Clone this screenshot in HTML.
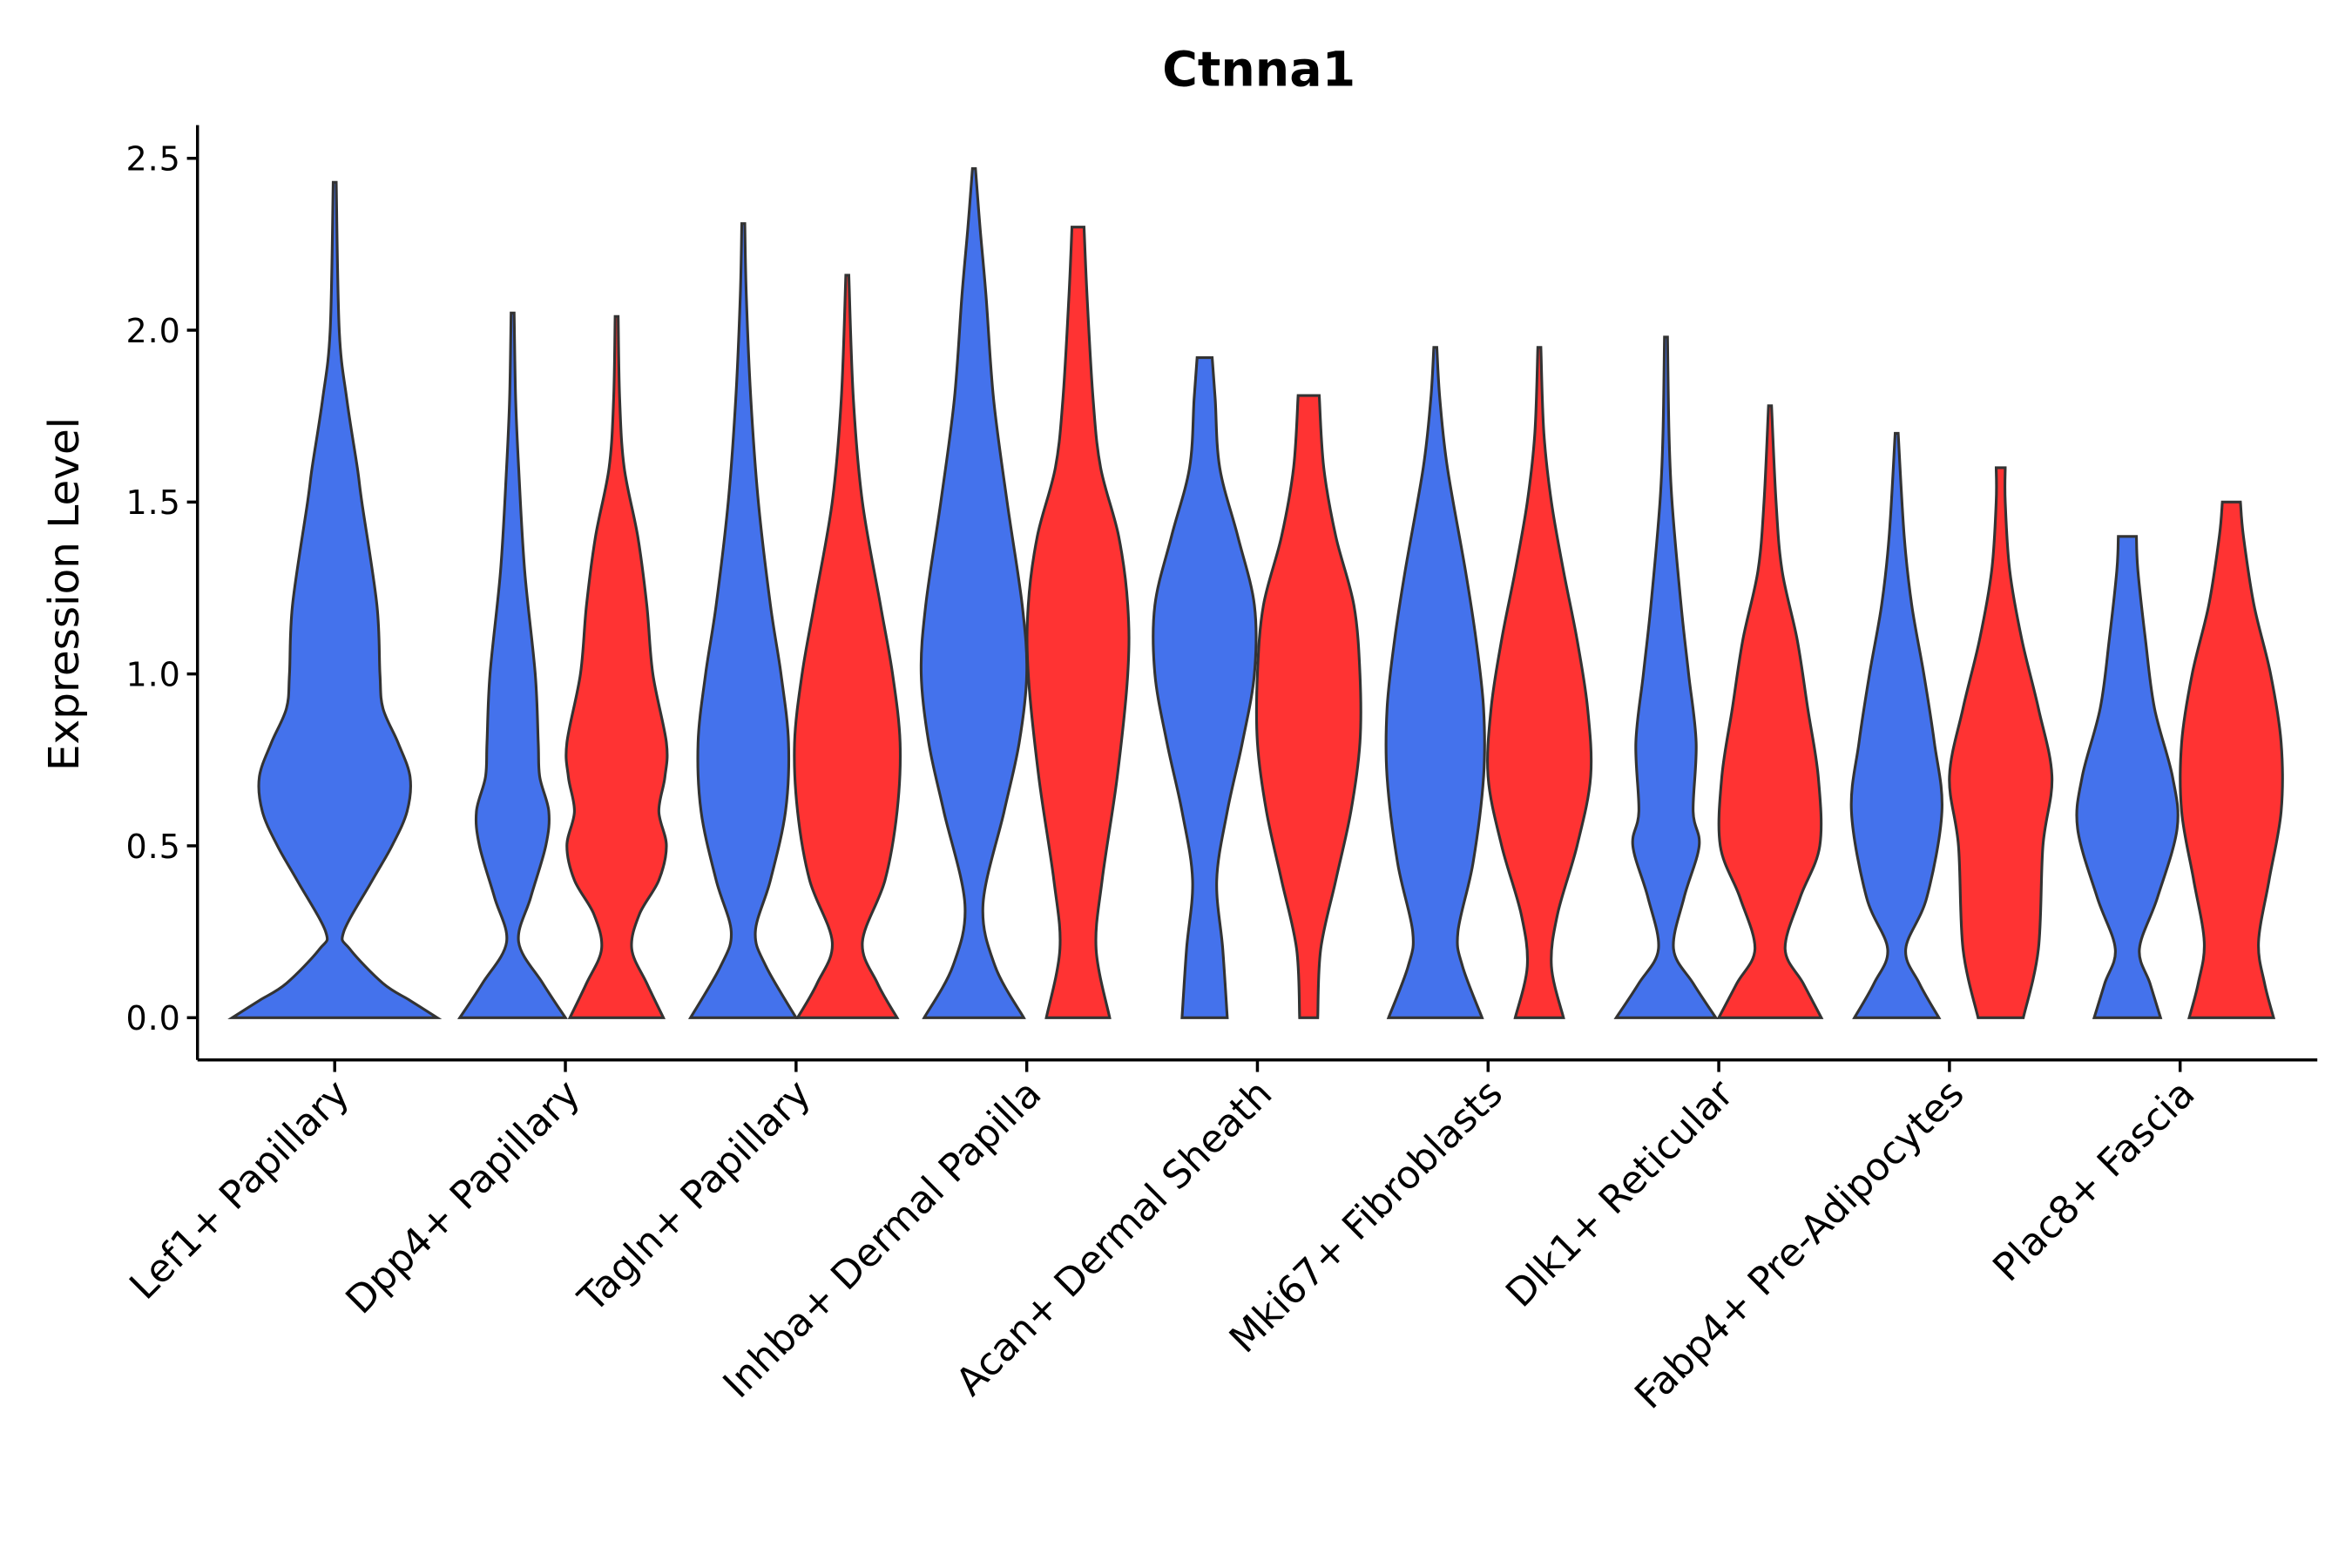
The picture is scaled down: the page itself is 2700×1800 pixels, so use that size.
<!DOCTYPE html>
<html><head><meta charset="utf-8"><style>
html,body{margin:0;padding:0;background:#fff;}
svg{display:block;}
text{font-family:"DejaVu Sans","Liberation Sans",sans-serif;fill:#000;}
</style></head><body>
<svg id="chart" width="2700" height="1800" viewBox="0 0 1560 1040" xmlns="http://www.w3.org/2000/svg">
<rect width="1560" height="1040" fill="#fff"/>
<text x="835" y="57" text-anchor="middle" font-size="32" font-weight="bold">Ctnna1</text>
<text transform="translate(52,394) rotate(-90)" text-anchor="middle" font-size="28">Expression Level</text>
<g id="violins"></g>
<g id="axes"></g>
</svg>
<script>
const categories = ["Lef1+ Papillary","Dpp4+ Papillary","Tagln+ Papillary","Inhba+ Dermal Papilla","Acan+ Dermal Sheath","Mki67+ Fibroblasts","Dlk1+ Reticular","Fabp4+ Pre-Adipocytes","Plac8+ Fascia"];
const yTicks = [0,0.5,1.0,1.5,2.0,2.5];
const yTickLabels = ["0.0","0.5","1.0","1.5","2.0","2.5"];
const blueProfiles = [
 [[0,68],[0.05,50],[0.1,32],[0.2,10],[0.25,6],[0.4,25],[0.5,38],[0.6,48],[0.7,50],[0.8,42],[0.9,32],[1.0,30],[1.2,28],[1.5,18],[1.6,15],[1.8,8],[2.0,3],[2.43,1]],
 [[0,35],[0.1,20],[0.22,4],[0.35,12],[0.5,22],[0.6,24],[0.7,18],[0.8,17],[1.0,15],[1.3,8],[1.6,4],[1.8,2],[2.05,1]],
 [[0,35],[0.15,15],[0.25,8],[0.4,18],[0.6,28],[0.8,30],[1.0,25],[1.2,18],[1.5,10],[1.8,5],[2.1,2],[2.31,1]],
 [[0,33],[0.15,14],[0.33,6],[0.6,20],[0.8,30],[1.0,35],[1.2,32],[1.5,22],[1.8,13],[2.1,8],[2.3,4],[2.47,1]],
 [[0,15],[0.2,12],[0.4,8],[0.6,15],[0.8,25],[1.0,33],[1.2,33],[1.4,22],[1.6,10],[1.8,7],[1.92,5]],
 [[0,31],[0.15,18],[0.25,15],[0.45,25],[0.7,32],[0.9,32],[1.1,27],[1.3,20],[1.6,8],[1.8,3],[1.95,1]],
 [[0,33],[0.1,18],[0.2,5],[0.35,12],[0.5,22],[0.6,18],[0.8,20],[1.0,15],[1.2,10],[1.5,4],[1.7,2],[1.98,1]],
 [[0,28],[0.1,15],[0.2,6],[0.35,20],[0.6,30],[0.8,25],[1.0,18],[1.2,10],[1.4,5],[1.7,1]],
 [[0,22],[0.1,15],[0.2,8],[0.35,20],[0.55,33],[0.7,30],[0.9,18],[1.1,12],[1.3,7],[1.4,6]]
];
const redProfiles = [
 null,
 [[0,31],[0.1,20],[0.2,10],[0.3,15],[0.4,28],[0.5,33],[0.6,28],[0.7,32],[0.8,33],[1.0,24],[1.2,20],[1.4,14],[1.6,5],[1.8,2],[2.04,1]],
 [[0,33],[0.1,20],[0.22,10],[0.4,25],[0.6,33],[0.8,35],[1.0,30],[1.2,22],[1.5,10],[1.8,4],[2.16,1]],
 [[0,21],[0.2,12],[0.4,16],[0.7,26],[1.0,33],[1.2,33],[1.4,27],[1.6,15],[1.8,10],[2.1,6],[2.3,4]],
 [[0,6],[0.2,8],[0.4,18],[0.6,28],[0.8,34],[1.0,34],[1.2,30],[1.4,18],[1.6,10],[1.81,7]],
 [[0,16],[0.15,8],[0.3,12],[0.5,25],[0.7,34],[0.9,32],[1.1,25],[1.3,16],[1.5,8],[1.7,3],[1.95,1]],
 [[0,34],[0.1,22],[0.2,10],[0.35,20],[0.5,33],[0.7,32],[0.9,25],[1.1,18],[1.3,8],[1.5,4],[1.78,1]],
 [[0,15],[0.2,25],[0.5,28],[0.7,34],[0.9,25],[1.1,14],[1.3,6],[1.5,3],[1.6,3]],
 [[0,28],[0.1,22],[0.22,18],[0.4,25],[0.6,33],[0.8,33],[1.0,26],[1.2,15],[1.4,8],[1.5,6]]
];
const NS="http://www.w3.org/2000/svg";
const X0=131,X1=1537,Y0=83,Y1=703;
const yScale=v=>675-228*v;
const xCenter=i=>222+i*153;
function smooth(pts){
  let d="";
  for(let i=0;i<pts.length-1;i++){
    const p0=pts[Math.max(0,i-1)],p1=pts[i],p2=pts[i+1],p3=pts[Math.min(pts.length-1,i+2)];
    const c1=[p1[0]+(p2[0]-p0[0])/6,p1[1]+(p2[1]-p0[1])/6];
    const c2=[p2[0]-(p3[0]-p1[0])/6,p2[1]-(p3[1]-p1[1])/6];
    d+=` C${c1[0]},${c1[1]} ${c2[0]},${c2[1]} ${p2[0]},${p2[1]}`;
  }
  return d;
}
function violin(cx,prof,color,name){
  const right=prof.map(p=>[cx+p[1],yScale(p[0])]);
  const left=prof.slice().reverse().map(p=>[cx-p[1],yScale(p[0])]);
  let d=`M${right[0][0]},${right[0][1]}`+smooth(right)+` L${left[0][0]},${left[0][1]}`+smooth(left)+" Z";
  const el=document.createElementNS(NS,"path");
  el.setAttribute("d",d);el.setAttribute("fill",color);el.setAttribute("stroke","#333");el.setAttribute("stroke-width","1.8");
  
  
  document.getElementById("violins").appendChild(el);
}
categories.forEach((c,i)=>{
  const cx=xCenter(i);
  if(redProfiles[i]){
    violin(cx-35,blueProfiles[i],"#4472EC","violin-blue-"+i);
    violin(cx+34,redProfiles[i],"#FF3333","violin-red-"+i);
  } else violin(cx,blueProfiles[i],"#4472EC","violin-blue-"+i);
});
const ax=document.getElementById("axes");
function line(x1,y1,x2,y2,name){
  const l=document.createElementNS(NS,"line");
  l.setAttribute("x1",x1);l.setAttribute("y1",y1);l.setAttribute("x2",x2);l.setAttribute("y2",y2);
  l.setAttribute("stroke","#000");l.setAttribute("stroke-width","2");
  
  
  ax.appendChild(l);
}
function text(x,y,s,attrs,name){
  const t=document.createElementNS(NS,"text");
  t.setAttribute("x",x);t.setAttribute("y",y);t.textContent=s;
  for(const k in attrs)t.setAttribute(k,attrs[k]);
  
  
  ax.appendChild(t);
}
line(X0,Y0,X0,Y1,"y-axis-line");
line(X0,Y1,X1,Y1,"x-axis-line");
yTicks.forEach((v,i)=>{
  const y=yScale(v);
  line(X0-7,y,X0,y,"y-tick");
  text(X0-11,y+8,yTickLabels[i],{"text-anchor":"end","font-size":"22","letter-spacing":"0.5"},"y-tick-label");
});
categories.forEach((c,i)=>{
  const x=xCenter(i);
  line(x,Y1,x,Y1+8,"x-tick");
  text(0,0,c,{"text-anchor":"end","font-size":"25.5","transform":`translate(${x+11},${Y1+24}) rotate(-45)`},"x-tick-label");
});
</script>
</body></html>
